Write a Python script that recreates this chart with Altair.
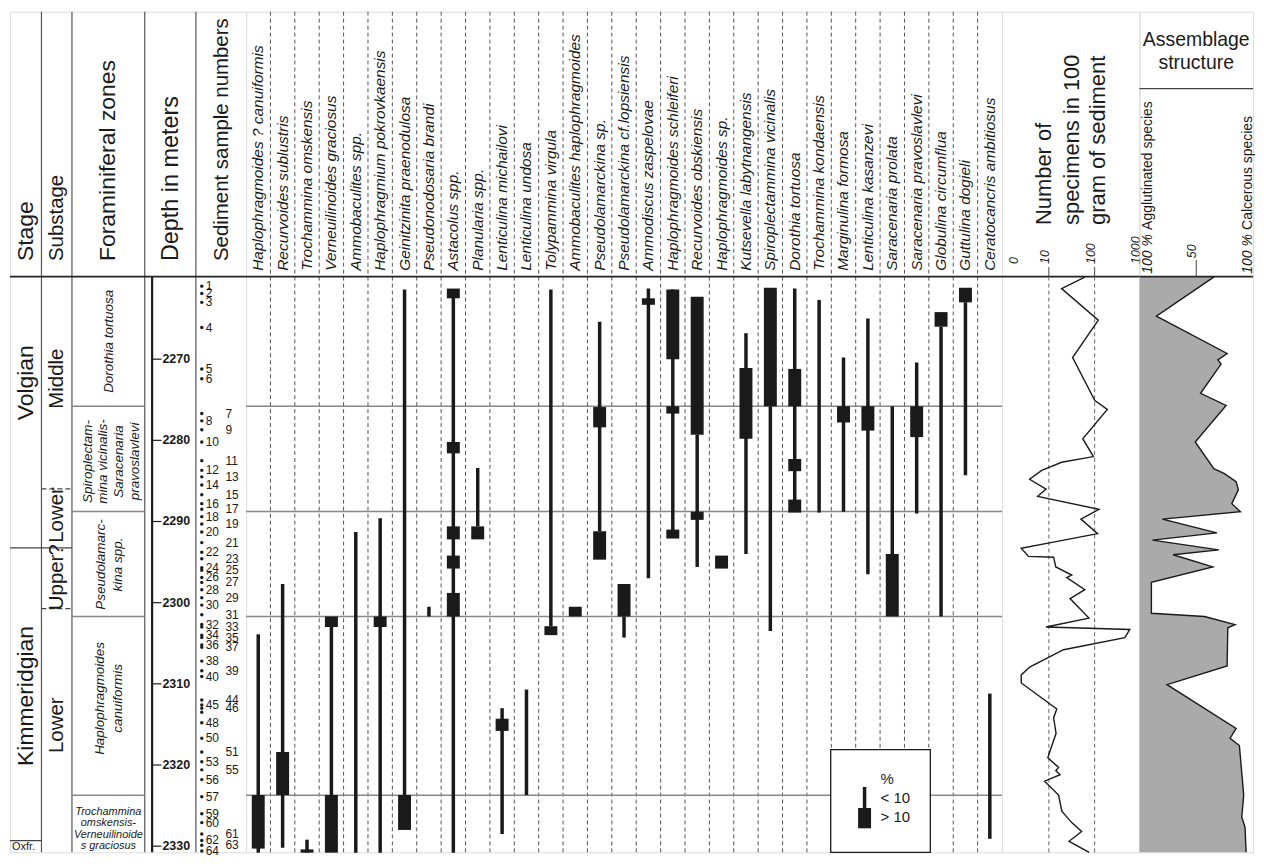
import altair as alt
import pandas as pd

FONT = "Liberation Sans"
INK = "#1a1a1a"

# ---------------- data ----------------
species = [
    "Haplophragmoides ? canuiformis", "Recurvoides sublustris", "Trochammina omskensis",
    "Verneuilinoides graciosus", "Ammobaculites spp.", "Haplophragmium pokrovkaensis",
    "Geinitzinita praenodulosa", "Pseudonodosaria brandi", "Astacolus spp.", "Planularia spp.",
    "Lenticulina michailovi", "Lenticulina undosa", "Tolypammina virgula",
    "Ammobaculites haplophragmoides", "Pseudolamarckina sp.", "Pseudolamarckina cf.lopsiensis",
    "Ammodiscus zaspelovae", "Haplophragmoides schleiferi", "Recurvoides obskiensis",
    "Haplophragmoides sp.", "Kutsevella labytnangensis", "Spiroplectammina vicinalis",
    "Dorothia tortuosa", "Trochammina kondaensis", "Marginulina formosa", "Lenticulina kasanzevi",
    "Saracenaria prolata", "Saracenaria pravoslavlevi", "Globulina circumflua", "Guttulina dogieli",
    "Ceratocancris ambitiosus"]

# ranges with < 10 % (species index, top depth m, base depth m)
thin_ranges = [
    (0, 2303.9, 2330.8), (1, 2297.7, 2330.2), (2, 2329.2, 2330.8), (3, 2303.0, 2323.7),
    (4, 2291.3, 2330.8), (5, 2289.6, 2330.8), (6, 2261.4, 2323.7), (7, 2300.5, 2301.7),
    (8, 2261.4, 2330.8), (9, 2283.4, 2290.6), (10, 2313.0, 2328.5), (11, 2310.7, 2323.7),
    (12, 2261.4, 2302.9), (14, 2265.4, 2291.2), (15, 2301.7, 2304.3), (16, 2261.3, 2297.0),
    (17, 2261.4, 2292.0), (18, 2279.3, 2295.6), (20, 2266.8, 2294.0), (21, 2275.8, 2303.5),
    (22, 2261.3, 2288.8), (23, 2262.7, 2288.9), (24, 2269.8, 2288.8), (25, 2265.0, 2296.5),
    (26, 2275.8, 2294.0), (27, 2270.4, 2289.0), (28, 2266.0, 2301.7), (29, 2263.0, 2284.3),
    (30, 2311.2, 2329.1)]

# ranges with > 10 %
thick_ranges = [
    (0, 2323.7, 2330.3), (1, 2318.4, 2323.7), (2, 2330.4, 2330.8), (3, 2301.7, 2303.0),
    (3, 2323.7, 2330.8), (5, 2301.7, 2303.0), (6, 2323.7, 2328.0), (8, 2261.3, 2262.5),
    (8, 2280.2, 2281.6), (8, 2290.6, 2292.2), (8, 2294.2, 2295.8), (8, 2298.8, 2301.7),
    (9, 2290.6, 2292.2), (10, 2314.3, 2315.8), (12, 2302.9, 2304.0), (13, 2300.5, 2301.7),
    (14, 2275.9, 2278.4), (14, 2291.2, 2294.7), (15, 2297.7, 2301.7), (16, 2262.5, 2263.3),
    (17, 2261.4, 2270.0), (17, 2275.8, 2276.7), (17, 2291.0, 2292.1), (18, 2262.3, 2279.3),
    (18, 2288.8, 2289.8), (19, 2294.2, 2295.8), (20, 2271.1, 2279.8), (21, 2261.2, 2275.8),
    (22, 2271.2, 2275.8), (22, 2282.3, 2283.8), (22, 2287.3, 2288.9), (24, 2275.8, 2277.8),
    (25, 2275.8, 2278.8), (26, 2294.0, 2301.7), (27, 2275.8, 2279.6), (28, 2264.2, 2266.0),
    (29, 2261.2, 2263.0)]

depth_ticks = [2270, 2280, 2290, 2300, 2310, 2320, 2330]

sample_no = [1, 2, 3, 4, 5, 6, 7, 8, 9, 10, 11, 12, 13, 14, 15, 16, 17, 18, 19, 20,
             21, 22, 23, 24, 25, 26, 27, 28, 29, 30, 31, 32, 33, 34, 35, 36, 37, 38, 39, 40,
             44, 45, 46, 47, 48, 50, 51, 53, 55, 56, 57, 59, 60, 61, 62, 63, 64]
sample_depth = [2261.0, 2261.9, 2263.0, 2266.1, 2271.2, 2272.4, 2276.7, 2277.6, 2278.7, 2280.2,
                2282.5, 2283.7, 2284.5, 2285.5, 2286.7, 2287.8, 2288.5, 2289.4, 2290.3, 2291.3,
                2292.6, 2293.8, 2294.6, 2295.7, 2296.0, 2296.9, 2297.5, 2298.4, 2299.4, 2300.3,
                2301.5, 2302.7, 2303.0, 2304.0, 2304.3, 2305.2, 2305.5, 2307.2, 2308.4, 2309.1,
                2312.0, 2312.6, 2313.0, 2313.5, 2314.8, 2316.7, 2318.4, 2319.6, 2320.6, 2321.8,
                2323.9, 2326.0, 2327.1, 2328.5, 2329.3, 2329.9, 2330.6]
labels_right = [7, 9, 11, 13, 15, 17, 19, 21, 23, 25, 27, 29, 31, 33, 35, 37, 39, 44, 46, 51, 55, 61, 63]
unlabelled = [47]

count_depth = [2259.9, 2261.3, 2265.2, 2269.8, 2275.1, 2276.2, 2279.8, 2282.0, 2282.7, 2283.7,
               2284.8, 2286.0, 2286.9, 2288.5, 2289.7, 2291.5, 2292.6, 2293.3, 2294.3, 2294.4,
               2295.6, 2296.6, 2296.9, 2298.4, 2299.5, 2301.9, 2303.0, 2303.3, 2304.3, 2305.8,
               2307.9, 2308.9, 2309.9, 2313.1, 2314.2, 2316.1, 2318.0, 2319.1, 2320.3, 2320.7,
               2321.2, 2322.0, 2323.7, 2325.7, 2327.1, 2328.2, 2329.4, 2330.76]
count_value = [61, 19, 120, 33, 101, 189, 55, 94, 19, 7.0,
               3.8, 8.7, 5.7, 124, 50, 116, 11, 2.5, 3.6, 12.7,
               14.2, 31.6, 24.6, 61, 29, 75, 8.7, 585, 456, 21,
               3.9, 2.5, 2.5, 14.9, 12.7, 14.4, 11.0, 9.5, 16.3, 14.2,
               17.6, 8.1, 16.3, 19.2, 31.6, 52, 27.6, 76]

asm_depth = [2259.83, 2264.7, 2269.3, 2270.1, 2270.6, 2274.2, 2275.7, 2280.2, 2283.5, 2284.1,
             2285.1, 2286.1, 2287.8, 2288.8, 2289.7, 2291.4, 2292.3, 2293.5, 2294.1, 2295.6,
             2297.5, 2301.3, 2301.7, 2302.7, 2303.1, 2307.8, 2310.1, 2315.5, 2316.7, 2317.6,
             2323.7, 2326.4, 2327.7, 2330.76]
asm_agglutinated = [66, 14.9, 77.2, 69.0, 71.9, 53.8, 76.3, 49.1, 65.5, 74.8,
                    85.1, 87.1, 81.3, 88.9, 20.2, 68.2, 11.4, 69.9, 29.6, 64.6,
                    10.5, 10.5, 57.3, 84.2, 77.8, 77.2, 24.3, 85.1, 79.8, 88.0,
                    91.8, 90.1, 93.0, 93.9]

zone_bounds = [2275.81, 2288.76, 2301.71, 2323.74]
stage_bound = 2293.24
oxfordian_top = 2329.31
substage_bounds = [2285.98, 2300.74]

# ---------------- layout ----------------
LEFT_W, SPEC_W, CNT_W, ASM_W = 237, 759, 138, 114
HEAD_H, BODY_H = 266, 578
H = HEAD_H + BODY_H
TOP, BOTTOM = 2259.83, 2330.76
Y0 = TOP - HEAD_H * (BOTTOM - TOP) / BODY_H     # depth value at the very top of the header
BW = SPEC_W / len(species)

x_left = alt.Scale(domain=[7, 247], nice=False, zero=False)
x_log = alt.Scale(type="log", domain=[0.951, 951], nice=False)
x_pct = alt.Scale(domain=[0, 100], nice=False)
x_sp = alt.Scale(domain=species, paddingInner=0, paddingOuter=0)
y_d = alt.Scale(domain=[Y0, BOTTOM], reverse=True, nice=False, zero=False)

ONE = pd.DataFrame({"a": [0]})


def hy(ref):
    """header layout position (reference header spans 4..276)"""
    return (ref - 4) * HEAD_H / 272.0


def texts(rows, xscale, **kw):
    df = pd.DataFrame(rows, columns=["t", "x", "y"])
    props = dict(font=FONT, color=INK)
    props.update(kw)
    return alt.Chart(df).mark_text(**props).encode(
        x=alt.X("x:Q", scale=xscale, axis=None),
        y=alt.Y("y:Q", scale=y_d, axis=None),
        text="t:N")


def htexts(rows, xscale, **kw):
    df = pd.DataFrame(rows, columns=["t", "x", "y"])
    df["y"] = df["y"].map(hy)
    props = dict(font=FONT, color=INK)
    props.update(kw)
    out = []
    for _, r in df.iterrows():
        out.append(alt.Chart(pd.DataFrame({"t": [r.t], "x": [r.x]})).mark_text(**props).encode(
            x=alt.X("x:Q", scale=xscale, axis=None), y=alt.value(r.y), text="t:N"))
    return out


def vtext(t, xpx, ypx, **kw):
    props = dict(font=FONT, color=INK)
    props.update(kw)
    return alt.Chart(pd.DataFrame({"t": [t]})).mark_text(**props).encode(
        x=alt.value(xpx), y=alt.value(ypx), text="t:N")


def vlines(xs, xscale, y1, y2, **kw):
    props = dict(color="#555", strokeWidth=1.2)
    props.update(kw)
    return alt.Chart(pd.DataFrame({"x": xs})).mark_rule(**props).encode(
        x=alt.X("x:Q", scale=xscale, axis=None), y=alt.value(y1), y2=alt.value(y2))


def hlines(rows, xscale, **kw):
    props = dict(color="#444", strokeWidth=1.2)
    props.update(kw)
    df = pd.DataFrame(rows, columns=["x", "x2", "d"])
    return alt.Chart(df).mark_rule(**props).encode(
        x=alt.X("x:Q", scale=xscale, axis=None), x2="x2:Q",
        y=alt.Y("d:Q", scale=y_d, axis=None))


def head_sep(w):
    return alt.Chart(ONE).mark_rule(color="#222", strokeWidth=1.6).encode(
        x=alt.value(0), x2=alt.value(w), y=alt.value(HEAD_H))


rot = dict(angle=270, align="left", baseline="middle")

# ---------------- column 1: stage / substage / zones / depth / samples ----------------
samp = pd.DataFrame({"n": sample_no, "d": sample_depth})
samp["x"] = [226 if n in labels_right else 206 for n in sample_no]
samp["t"] = ["" if n in unlabelled else str(n) for n in sample_no]
samp["dot"] = 202
ticks_df = pd.DataFrame({"d": depth_ticks, "t": [str(t) for t in depth_ticks]})
ticks_df["x1"] = 152
ticks_df["x2"] = 161
ticks_df["xl"] = 162

left = alt.layer(
    vlines([39, 70, 144, 196], x_left, 0, H),
    vlines([151.5], x_left, HEAD_H, H, color=INK, strokeWidth=2.2),
    head_sep(LEFT_W),
    *htexts([("Stage", 23, 260)], x_left, fontSize=23, **rot),
    *htexts([("Substage", 55, 260)], x_left, fontSize=20.5, **rot),
    *htexts([("Foraminiferal zones", 107, 260)], x_left, fontSize=23, **rot),
    *htexts([("Depth in meters", 171, 260)], x_left, fontSize=23.5, **rot),
    *htexts([("Sediment sample numbers", 223, 260)], x_left, fontSize=20.5, **rot),
    hlines([(7, 70, stage_bound), (7, 39, oxfordian_top)], x_left),
    hlines([(70, 144, d) for d in zone_bounds], x_left, color="#888", strokeWidth=1.5),
    hlines([(39, 70, d) for d in substage_bounds], x_left, strokeDash=[5, 3]),
    texts([("Volgian", 23, 2272.9), ("Kimmeridgian", 23, 2311.5)], x_left,
          fontSize=23, angle=270, align="center", baseline="middle"),
    texts([("Middle", 55, 2272.4), ("Lower", 55, 2289.2), ("?", 55, 2293.5),
           ("Upper", 55, 2297.5), ("Lower", 55, 2315.1)], x_left,
          fontSize=20.5, angle=270, align="center", baseline="middle"),
    texts([("Oxfr.", 9, 2330.1)], x_left, fontSize=11, align="left", baseline="middle"),
    texts([("Dorothia tortuosa", 108, 2267.8),
           ("Spiroplectam-", 86, 2282.6), ("mina vicinalis-", 102, 2282.6),
           ("Saracenaria", 118, 2282.6), ("pravoslavlevi", 134, 2282.6),
           ("Pseudolamarc-", 100, 2295.3), ("kina spp.", 117, 2295.3),
           ("Haplophragmoides", 99, 2311.8), ("canuiformis", 117, 2311.8)],
          x_left, fontSize=13.5, fontStyle="italic", angle=270, align="center",
          baseline="middle"),
    texts([("Trochammina", 107, 2325.8), ("omskensis-", 107, 2327.2),
           ("Verneuilinoide", 107, 2328.6), ("s graciosus", 107, 2330.0)],
          x_left, fontSize=11, fontStyle="italic", align="center", baseline="middle"),
    alt.Chart(ticks_df).mark_rule(color=INK, strokeWidth=1.2).encode(
        x=alt.X("x1:Q", scale=x_left, axis=None), x2="x2:Q",
        y=alt.Y("d:Q", scale=y_d, axis=None)),
    alt.Chart(ticks_df).mark_text(font=FONT, fontSize=12.5, fontWeight="bold", align="left",
                                  baseline="middle", color=INK).encode(
        x=alt.X("xl:Q", scale=x_left, axis=None), y=alt.Y("d:Q", scale=y_d, axis=None),
        text="t:N"),
    alt.Chart(samp).mark_circle(size=12, color=INK, opacity=1).encode(
        x=alt.X("dot:Q", scale=x_left, axis=None), y=alt.Y("d:Q", scale=y_d, axis=None)),
    alt.Chart(samp).mark_text(font=FONT, fontSize=12, align="left", baseline="middle",
                              color=INK).encode(
        x=alt.X("x:Q", scale=x_left, axis=None), y=alt.Y("d:Q", scale=y_d, axis=None),
        text="t:N"),
).properties(width=LEFT_W, height=H)

# ---------------- column 2: species ranges ----------------
sp_df = pd.DataFrame({"sp": species})
sep_df = pd.DataFrame({"sp": species[:-1]})
spx = alt.X("sp:N", scale=x_sp, axis=None)

thin_df = pd.DataFrame([(species[i], a, b) for i, a, b in thin_ranges], columns=["sp", "top", "base"])
thick_df = pd.DataFrame([(species[i], a, b) for i, a, b in thick_ranges], columns=["sp", "top", "base"])
zone_df = pd.DataFrame({"d": zone_bounds})
leg_txt = pd.DataFrame({"t": ["%", "< 10", "> 10"], "d": [2321.7, 2324.1, 2326.4]})
leg_box = pd.DataFrame({"d1": [2318.1], "d2": [BOTTOM]})
leg_thin = pd.DataFrame({"d1": [2322.7], "d2": [2325.3]})
leg_thick = pd.DataFrame({"d1": [2325.3], "d2": [2327.8]})

spec = alt.layer(
    alt.Chart(sep_df).mark_rule(xOffset=BW / 2, strokeDash=[4, 3], color="#555",
                                strokeWidth=1).encode(x=spx, y=alt.value(0), y2=alt.value(H)),
    head_sep(SPEC_W),
    alt.Chart(sp_df).mark_text(angle=270, align="left", baseline="middle", font=FONT,
                               fontSize=15.5, fontStyle="italic", color=INK).encode(
        x=spx, y=alt.value(hy(270)), text="sp:N"),
    alt.Chart(zone_df).mark_rule(color="#888", strokeWidth=1.5).encode(
        x=alt.value(0), x2=alt.value(SPEC_W), y=alt.Y("d:Q", scale=y_d, axis=None)),
    alt.Chart(leg_box).mark_rect(fill="white", stroke=INK, strokeWidth=1.3).encode(
        x=alt.value(587), x2=alt.value(687), y=alt.Y("d1:Q", scale=y_d, axis=None), y2="d2:Q"),
    alt.Chart(thin_df).mark_rule(color=INK, strokeWidth=3.5).encode(
        x=spx, y=alt.Y("top:Q", scale=y_d, axis=None), y2="base:Q"),
    alt.Chart(thick_df).mark_rule(color=INK, strokeWidth=13).encode(
        x=spx, y=alt.Y("top:Q", scale=y_d, axis=None), y2="base:Q"),
    alt.Chart(leg_thin).mark_rule(color=INK, strokeWidth=3.5).encode(
        x=alt.value(621), y=alt.Y("d1:Q", scale=y_d, axis=None), y2="d2:Q"),
    alt.Chart(leg_thick).mark_rule(color=INK, strokeWidth=13).encode(
        x=alt.value(621), y=alt.Y("d1:Q", scale=y_d, axis=None), y2="d2:Q"),
    alt.Chart(leg_txt).mark_text(font=FONT, fontSize=15, align="left", baseline="middle",
                                 color=INK).encode(
        x=alt.value(637), y=alt.Y("d:Q", scale=y_d, axis=None), text="t:N"),
).properties(width=SPEC_W, height=H)

# ---------------- column 3: specimen counts ----------------
cnt_labels = pd.DataFrame({"v": [10, 100, 1000], "t": ["10", "100", "1000"]})
cnt_df = pd.DataFrame({"d": count_depth, "n": count_value})
cnt = alt.layer(
    head_sep(CNT_W),
    alt.Chart(cnt_labels).mark_text(angle=270, align="left", baseline="alphabetic", font=FONT,
                                    fontSize=12.5, fontStyle="italic", color=INK).encode(
        x=alt.X("v:Q", scale=x_log, axis=None), y=alt.value(hy(263)), text="t:N"),
    alt.Chart(pd.DataFrame({"v": [1], "t": ["0"]})).mark_text(
        angle=270, align="left", baseline="top", font=FONT, fontSize=12.5, fontStyle="italic",
        color=INK, dy=5).encode(x=alt.X("v:Q", scale=x_log, axis=None), y=alt.value(hy(263)),
                                text="t:N"),
    alt.Chart(pd.DataFrame({"v": [10, 100]})).mark_rule(color="#444", strokeWidth=1).encode(
        x=alt.X("v:Q", scale=x_log, axis=None), y=alt.value(hy(266)), y2=alt.value(HEAD_H)),
    vtext("Number of", 42, hy(223), fontSize=22, **rot),
    vtext("specimens in 100", 70, hy(223), fontSize=22, **rot),
    vtext("gram of sediment", 96, hy(223), fontSize=22, **rot),
    alt.Chart(pd.DataFrame({"v": [10, 100]})).mark_rule(color="#666", strokeWidth=1,
                                                       strokeDash=[4, 3]).encode(
        x=alt.X("v:Q", scale=x_log, axis=None), y=alt.value(HEAD_H), y2=alt.value(H)),
    alt.Chart(cnt_df).mark_line(color=INK, strokeWidth=1.4).encode(
        x=alt.X("n:Q", scale=x_log, axis=None), y=alt.Y("d:Q", scale=y_d, axis=None),
        order="d:Q"),
).properties(width=CNT_W, height=H)

# ---------------- column 4: assemblage structure ----------------
asm_df = pd.DataFrame({"d": asm_depth, "p": asm_agglutinated})
asm = alt.layer(
    alt.Chart(asm_df).mark_area(orient="horizontal", fill="#aaaaaa", fillOpacity=1,
                                opacity=1).encode(
        x=alt.X("p:Q", scale=x_pct, axis=None, stack=None),
        y=alt.Y("d:Q", scale=y_d, axis=None)),
    alt.Chart(asm_df).mark_line(color=INK, strokeWidth=1.4).encode(
        x=alt.X("p:Q", scale=x_pct, axis=None),
        y=alt.Y("d:Q", scale=y_d, axis=None),
        order=alt.Order("d:Q")),
    head_sep(ASM_W),
    alt.Chart(pd.DataFrame({"v": [50], "t": ["50"]})).mark_text(
        angle=270, align="left", baseline="alphabetic", font=FONT, fontSize=12.5,
        fontStyle="italic", color=INK).encode(
        x=alt.X("v:Q", scale=x_pct, axis=None), y=alt.value(hy(257)), text="t:N"),
    alt.Chart(pd.DataFrame({"v": [50]})).mark_rule(color="#444", strokeWidth=1).encode(
        x=alt.X("v:Q", scale=x_pct, axis=None), y=alt.value(hy(259)), y2=alt.value(HEAD_H)),
    alt.Chart(ONE).mark_rule(color="#444", strokeWidth=1.2).encode(
        x=alt.value(0), x2=alt.value(ASM_W), y=alt.value(hy(83))),
    vtext("Assemblage", 57, hy(33), fontSize=19.5, align="center", baseline="middle"),
    vtext("structure", 57, hy(57), fontSize=19.5, align="center", baseline="middle"),
    vtext("100 %", 9, hy(273), fontSize=14, fontStyle="italic", **rot),
    vtext("Agglutinated species", 9, hy(228), fontSize=14, **rot),
    vtext("100 %", 109, hy(273), fontSize=14, fontStyle="italic", **rot),
    vtext("Calcerous species", 109, hy(228), fontSize=14, **rot),
).properties(width=ASM_W, height=H)

chart = alt.hconcat(left, spec, cnt, asm, spacing=0, bounds="flush", padding=0).configure_view(
    stroke="#222", strokeWidth=1.6).configure(background="white")

chart.save("out.html", embed_options={"renderer": "svg", "actions": False})
